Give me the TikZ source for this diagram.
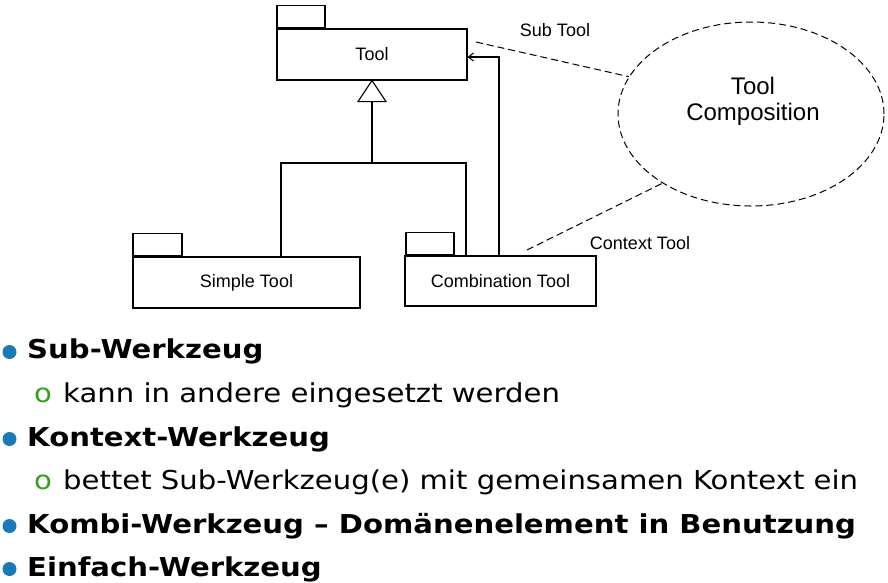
\documentclass[tikz,border=0pt]{standalone}
\usepackage{fontspec}
\setmainfont{Liberation Sans}
\newfontfamily\vfont{DejaVu Sans}[FakeStretch=1.12]
\usetikzlibrary{arrows.meta,shapes.geometric}
\definecolor{bulblue}{RGB}{24,122,182}
\definecolor{bulgreen}{RGB}{52,160,30}
\tikzset{
  umlbox/.style={draw,line width=1.1pt,inner sep=0pt,font=\fontsize{18}{20}\selectfont},
  tabbox/.style={draw,line width=1.1pt,inner sep=0pt,minimum width=48pt,minimum height=22pt},
  conn/.style={line width=1.1pt},
  dashconn/.style={line width=1pt,dash pattern=on 7pt off 4pt},
  lbl/.style={font=\fontsize{18}{20}\selectfont,inner sep=0pt},
  hd/.style={font=\vfont\bfseries\fontsize{26}{30}\selectfont,anchor=base west,inner sep=0pt},
  sub/.style={font=\vfont\fontsize{26}{30}\selectfont,anchor=base west,inner sep=0pt},
  dot/.style={circle,fill=bulblue,inner sep=0pt,minimum size=14pt},
  obul/.style={font=\vfont\fontsize{26}{30}\selectfont,text=bulgreen,anchor=base west,inner sep=0pt}
}
\begin{document}
\begin{tikzpicture}[x=1pt,y=-1pt]
\useasboundingbox (0,0) rectangle (888,582);
% boxes
\node[umlbox,minimum width=190pt,minimum height=51pt] (tool) at (372,54.5) {Tool};
\node[tabbox,anchor=south west] (tooltab) at (tool.north west) {};
\node[umlbox,minimum width=227pt,minimum height=51pt] (simple) at (246.5,282.5) {Simple Tool};
\node[tabbox,anchor=south west,minimum width=49pt] (simpletab) at (simple.north west) {};
\node[umlbox,minimum width=191pt,minimum height=50pt] (comb) at (500.5,281) {Combination Tool};
\node[tabbox,anchor=south west,xshift=1pt] (combtab) at (comb.north west) {};
% ellipse
\node[ellipse,draw,dashconn,minimum width=266pt,minimum height=184pt,inner sep=0pt] (comp) at (751,114) {};
\node[font=\fontsize{24}{26}\selectfont,align=center,inner sep=0pt] (comptxt) at (753,101) {Tool\\Composition};
% labels
\node[lbl] (sublbl) at (555,30) {Sub Tool};
\node[lbl] (ctxlbl) at (640,243) {Context Tool};
% generalization
\coordinate (tribase) at ([yshift=-21pt]tool.south);
\coordinate (j) at (372,163);
\draw[conn] (tool.south) -- ([xshift=-14pt]tribase) -- ([xshift=14pt]tribase) -- cycle;
\draw[conn] (tribase) -- (j);
\draw[conn] (j) -| ([xshift=34.5pt]simple.north);
\draw[conn] (j) -| ([xshift=-34.5pt]comb.north);
% sub tool arrow
\draw[conn,-{Straight Barb[length=5pt,width=8pt]}] ([xshift=-1.5pt]comb.north) |- ([yshift=-2.5pt]tool.east);
% dashed links
\coordinate (st) at (476,42);
\coordinate (ct) at (527,250);
\draw[dashconn] (st) -- (comp.163);
\draw[dashconn] (ct) -- (comp.218);
% bullets
\node[dot] (d1) at (9.5,352) {};
\node[hd] (b1) at (27,358) {Sub-Werkzeug};
\node[obul] (o2) at (34,402) {o};
\node[sub] (b2) at (63,402) {kann in andere eingesetzt werden};
\node[dot] (d3) at (9.5,439) {};
\node[hd] (b3) at (27,446) {Kontext-Werkzeug};
\node[obul] (o4) at (34,489) {o};
\node[sub] (b4) at (63,489) {bettet Sub-Werkzeug(e) mit gemeinsamen Kontext ein};
\node[dot] (d5) at (9.5,526) {};
\node[hd] (b5) at (27,533) {Kombi-Werkzeug – Domänenelement in Benutzung};
\node[dot] (d6) at (9.5,569) {};
\node[hd] (b6) at (27,576) {Einfach-Werkzeug};
\end{tikzpicture}
\end{document}
